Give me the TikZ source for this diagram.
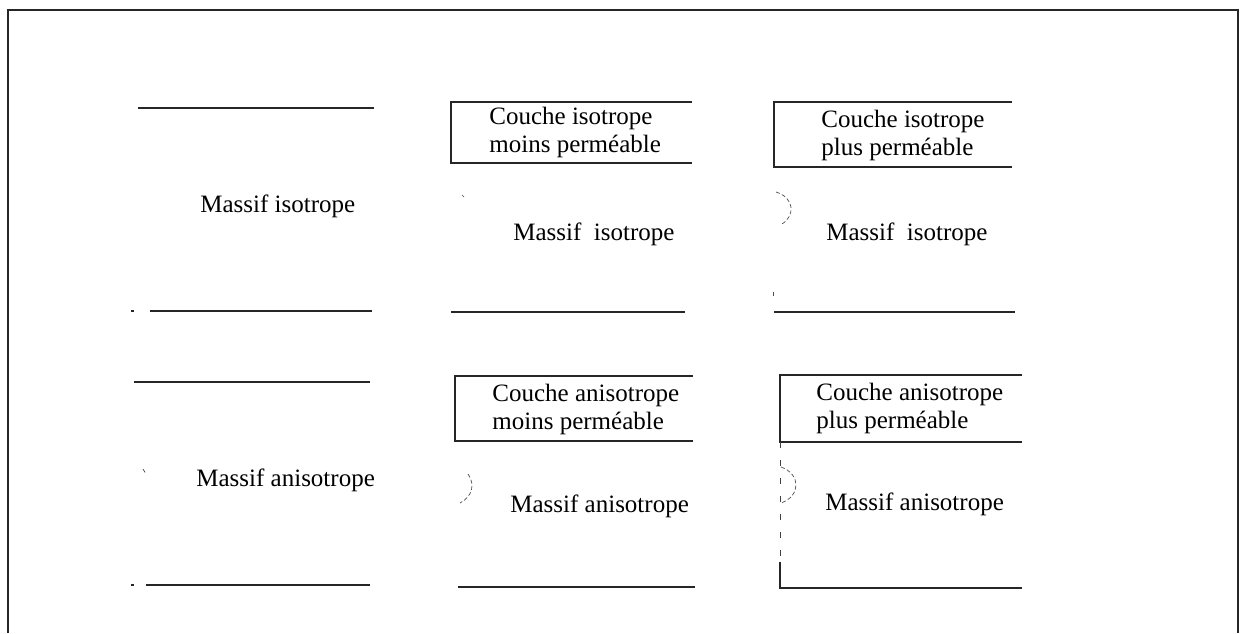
\documentclass[tikz,border=0pt]{standalone}
\usepackage{fontspec}
\setmainfont{Liberation Serif}
\begin{document}
\begin{tikzpicture}[x=0.5pt,y=-0.5pt,
  rule/.style={line width=0.6pt, black!85},
  frame/.style={line width=1pt, black!85},
  lbl/.style={font=\fontsize{12.5}{13.8}\selectfont, inner sep=0pt, anchor=base west},
  lbltwo/.style={lbl, align=left, anchor=north west},
  scanmark/.style={line width=0.35pt, black!70, dash pattern=on 2pt off 1.2pt},
  sparse/.style={line width=0.5pt, black!75, dash pattern=on 3pt off 6pt}]
\useasboundingbox (0,0) rectangle (1240,633);
% outer frame (open at the bottom)
\draw[frame] (8,633) -- (8,10) -- (1238,10) -- (1238,633);

% ---------- row 1 ----------
% column 1
\draw[rule] (138,108) -- (374,108);
\draw[rule] (131,311) -- (134,311);
\draw[rule] (150,311) -- (372,311);
\node[lbl] (m11) at (200,212) {Massif isotrope};

% column 2
\draw[rule] (692,102) -- (451,102) -- (451,163) -- (692,163);
\node[lbltwo] (c12) at (489,107) {Couche isotrope\\moins perméable};
\node[lbl] (m12) at (513,240) {Massif\ \ isotrope};
\draw[rule] (451,312) -- (685,312);
\draw[scanmark] (462,195) -- (464,197);

% column 3
\draw[rule] (1012,102) -- (774,102) -- (774,167) -- (1012,167);
\node[lbltwo] (c13) at (821,110) {Couche isotrope\\plus perméable};
\node[lbl] (m13) at (826,240) {Massif\ \ isotrope};
\draw[rule] (774,312) -- (1015,312);
\draw[scanmark] (776,192) .. controls (795,198) and (795,216) .. (782,224);
\draw[scanmark] (773,292) -- (773,296);

% ---------- row 2 ----------
% column 1
\draw[rule] (134,382) -- (370,382);
\draw[rule] (131,585) -- (134,585);
\draw[rule] (146,585) -- (370,585);
\node[lbl] (m21) at (196,486) {Massif anisotrope};
\draw[scanmark] (143,469) -- (146,474);

% column 2
\draw[rule] (693,376) -- (455,376) -- (455,441) -- (693,441);
\node[lbltwo] (c22) at (492,384) {Couche anisotrope\\moins perméable};
\node[lbl] (m22) at (510,512) {Massif anisotrope};
\draw[rule] (458,587) -- (695,587);
\draw[scanmark] (468,474) .. controls (475,484) and (473,496) .. (460,503);

% column 3
\draw[rule] (1022,375) -- (780,375) -- (780,442) -- (1022,442);
\node[lbltwo] (c23) at (816,383) {Couche anisotrope\\plus perméable};
\node[lbl] (m23) at (825,510) {Massif anisotrope};
\draw[sparse] (780,442) -- (780,560);
\draw[rule] (780,562) -- (780,588) -- (1022,588);
\draw[scanmark] (781,467) .. controls (801,474) and (801,496) .. (781,503);
\end{tikzpicture}
\end{document}
